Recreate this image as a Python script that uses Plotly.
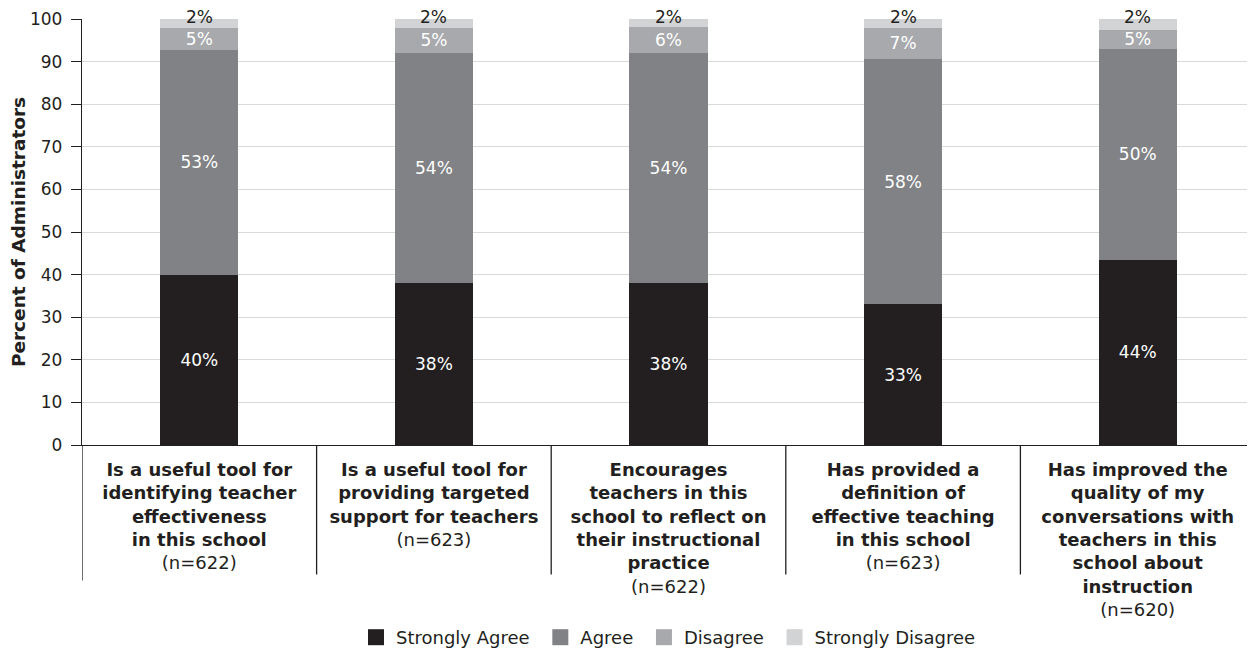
import plotly.graph_objects as go

categories = [
    "Is a useful tool for<br>identifying teacher<br>effectiveness<br>in this school",
    "Is a useful tool for<br>providing targeted<br>support for teachers",
    "Encourages<br>teachers in this<br>school to reflect on<br>their instructional<br>practice",
    "Has provided a<br>definition of<br>effective teaching<br>in this school",
    "Has improved the<br>quality of my<br>conversations with<br>teachers in this<br>school about<br>instruction",
]
sample_sizes = ["(n=622)", "(n=623)", "(n=622)", "(n=623)", "(n=620)"]

series_names = ["Strongly Agree", "Agree", "Disagree", "Strongly Disagree"]
# bar heights
strongly_agree = [40, 38, 38, 33, 43.5]
agree = [52.8, 54.1, 54.1, 57.7, 49.5]
disagree = [5, 5.8, 6.0, 7.2, 4.5]
strongly_disagree = [2.2, 2.1, 1.9, 2.1, 2.5]
# printed labels
sa_labels = [40, 38, 38, 33, 44]
ag_labels = [53, 54, 54, 58, 50]
di_labels = [5, 5, 6, 7, 5]
sd_labels = [2, 2, 2, 2, 2]

colors = ["#231f20", "#808285", "#a7a9ac", "#d1d3d4"]
FONT = "DejaVu Sans"
DARK = "#231f20"

x_idx = list(range(len(categories)))
tick_text = [f"{c}<br><span style='font-weight:normal'>{n}</span>" for c, n in zip(categories, sample_sizes)]

fig = go.Figure()
vals = [strongly_agree, agree, disagree, strongly_disagree]
labs = [sa_labels, ag_labels, di_labels, sd_labels]
for i, name in enumerate(series_names):
    show_text = i < 3
    fig.add_trace(go.Bar(
        name=name, x=x_idx, y=vals[i],
        marker=dict(color=colors[i], line=dict(width=0)),
        text=[f"{v}%" for v in labs[i]] if show_text else None,
        textposition="inside", insidetextanchor="middle",
        textfont=dict(color="white", size=17, family=FONT),
        constraintext="none",
        width=0.333,
        hoverinfo="skip",
        showlegend=False,
    ))
    # legend entry with square marker
    fig.add_trace(go.Scatter(
        name=name + ("\u00a0" if i < 3 else ""), x=[None], y=[None], mode="markers",
        marker=dict(symbol="square", size=16, color=colors[i], line=dict(width=0)),
        showlegend=True, hoverinfo="skip",
    ))

# strongly disagree labels above bars
for xi in x_idx:
    total = strongly_agree[xi] + agree[xi] + disagree[xi] + strongly_disagree[xi]
    fig.add_annotation(x=xi, y=total, text=f"{sd_labels[xi]}%", showarrow=False,
                       yanchor="middle", yshift=2, borderpad=0,
                       font=dict(color=DARK, size=17, family=FONT))

# category separators
for b in [-0.5, 0.5, 1.5, 2.5, 3.5]:
    y1 = -0.318 if b == -0.5 else -0.304
    fig.add_shape(type="line", xref="x", yref="paper", x0=b, x1=b, y0=0, y1=y1,
                  line=dict(color=DARK, width=1.3))

fig.update_layout(
    barmode="stack",
    width=1247, height=648,
    margin=dict(l=74, r=0, t=11, b=209),
    paper_bgcolor="white", plot_bgcolor="white",
    font=dict(family=FONT, color=DARK, size=17),
    legend=dict(orientation="h", x=0.5, xanchor="center", y=-0.452, yanchor="middle",
                font=dict(size=18, family=FONT, color=DARK), traceorder="normal",
                itemclick=False),
    showlegend=True,
)
fig.update_xaxes(
    tickmode="array", tickvals=x_idx, ticktext=tick_text,
    range=[-0.5, 4.5], showline=True, linecolor=DARK, linewidth=1.3,
    ticks="", tickfont=dict(size=18, family=FONT, weight="bold", color=DARK),
    ticklabelstandoff=8,
    showgrid=False, zeroline=False, automargin=False,
)
fig.update_yaxes(
    range=[0, 100], dtick=10, showline=True, linecolor=DARK, linewidth=1.3,
    ticks="outside", ticklen=10, tickcolor=DARK, tickwidth=1.3,
    ticklabelstandoff=5,
    showgrid=True, gridcolor="#d9d9d9", gridwidth=1.3,
    tickfont=dict(size=17, family=FONT, color=DARK),
    title=dict(text="Percent of Administrators", font=dict(size=18.5, family=FONT, weight="bold", color=DARK), standoff=4),
    zeroline=False, automargin=False,
)

fig.write_html("out.html")
